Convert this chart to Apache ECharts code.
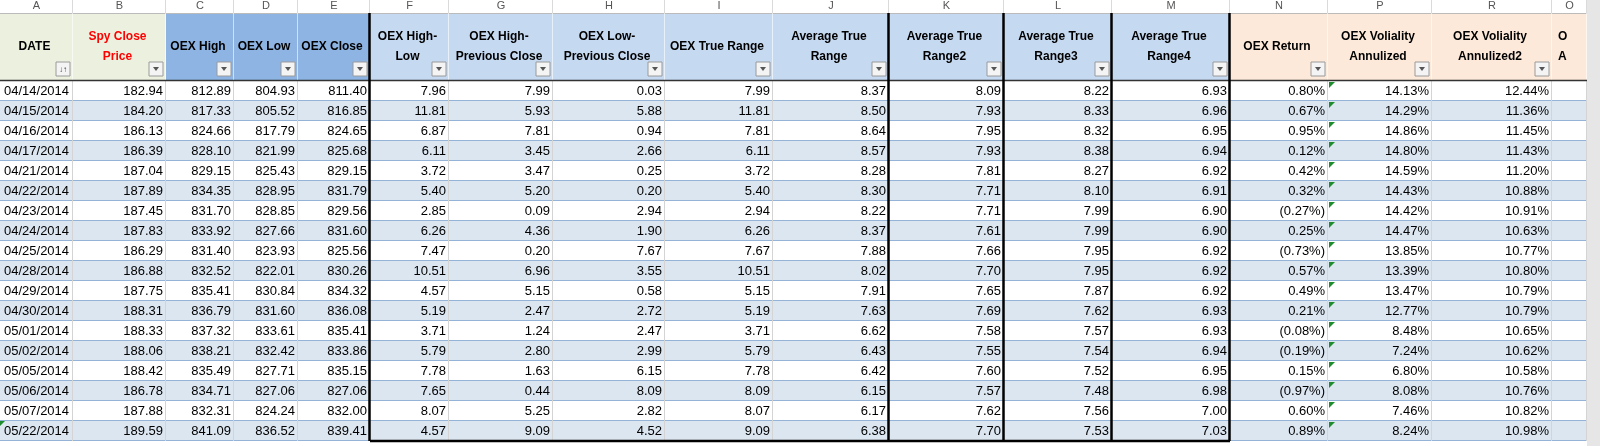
<!DOCTYPE html>
<html><head><meta charset="utf-8">
<script src="https://cdn.jsdelivr.net/npm/echarts@6/dist/echarts.min.js"></script>
<style>html,body{margin:0;padding:0;background:#fff}#c{width:1600px;height:446px}</style>
</head><body><div id="c"></div>
<script>
// ---- data ----
const colLetters = ['A','B','C','D','E','F','G','H','I','J','K','L','M','N','P','R','O'];
const headers = [['DATE'],['Spy Close','Price'],['OEX High'],['OEX Low'],['OEX Close'],['OEX High-','Low'],['OEX High-','Previous Close'],['OEX Low-','Previous Close'],['OEX True Range'],['Average True','Range'],['Average True','Range2'],['Average True','Range3'],['Average True','Range4'],['OEX Return'],['OEX Voliality','Annulized'],['OEX Voliality','Annulized2'],['O','A']];
const dates = ['04/14/2014','04/15/2014','04/16/2014','04/17/2014','04/21/2014','04/22/2014','04/23/2014','04/24/2014','04/25/2014','04/28/2014','04/29/2014','04/30/2014','05/01/2014','05/02/2014','05/05/2014','05/06/2014','05/07/2014','05/22/2014'];
const spyClose = [182.94,184.20,186.13,186.39,187.04,187.89,187.45,187.83,186.29,186.88,187.75,188.31,188.33,188.06,188.42,186.78,187.88,189.59];
const oexHigh = [812.89,817.33,824.66,828.10,829.15,834.35,831.70,833.92,831.40,832.52,835.41,836.79,837.32,838.21,835.49,834.71,832.31,841.09];
const oexLow = [804.93,805.52,817.79,821.99,825.43,828.95,828.85,827.66,823.93,822.01,830.84,831.60,833.61,832.42,827.71,827.06,824.24,836.52];
const oexClose = [811.40,816.85,824.65,825.68,829.15,831.79,829.56,831.60,825.56,830.26,834.32,836.08,835.41,833.86,835.15,827.06,832.00,839.41];
const highLow = [7.96,11.81,6.87,6.11,3.72,5.40,2.85,6.26,7.47,10.51,4.57,5.19,3.71,5.79,7.78,7.65,8.07,4.57];
const highPrevClose = [7.99,5.93,7.81,3.45,3.47,5.20,0.09,4.36,0.20,6.96,5.15,2.47,1.24,2.80,1.63,0.44,5.25,9.09];
const lowPrevClose = [0.03,5.88,0.94,2.66,0.25,0.20,2.94,1.90,7.67,3.55,0.58,2.72,2.47,2.99,6.15,8.09,2.82,4.52];
const trueRange = [7.99,11.81,7.81,6.11,3.72,5.40,2.94,6.26,7.67,10.51,5.15,5.19,3.71,5.79,7.78,8.09,8.07,9.09];
const atr1 = [8.37,8.50,8.64,8.57,8.28,8.30,8.22,8.37,7.88,8.02,7.91,7.63,6.62,6.43,6.42,6.15,6.17,6.38];
const atr2 = [8.09,7.93,7.95,7.93,7.81,7.71,7.71,7.61,7.66,7.70,7.65,7.69,7.58,7.55,7.60,7.57,7.62,7.70];
const atr3 = [8.22,8.33,8.32,8.38,8.27,8.10,7.99,7.99,7.95,7.95,7.87,7.62,7.57,7.54,7.52,7.48,7.56,7.53];
const atr4 = [6.93,6.96,6.95,6.94,6.92,6.91,6.90,6.90,6.92,6.92,6.92,6.93,6.93,6.94,6.95,6.98,7.00,7.03];
const oexReturn = [0.80,0.67,0.95,0.12,0.42,0.32,-0.27,0.25,-0.73,0.57,0.49,0.21,-0.08,-0.19,0.15,-0.97,0.60,0.89];
const vol1 = [14.13,14.29,14.86,14.80,14.59,14.43,14.42,14.47,13.85,13.39,13.47,12.77,8.48,7.24,6.80,8.08,7.46,8.24];
const vol2 = [12.44,11.36,11.45,11.43,11.20,10.88,10.91,10.63,10.77,10.80,10.79,10.79,10.65,10.62,10.58,10.76,10.82,10.98];

// ---- layout ----
const EDGES = [0,73,166,234,298,370,449,553,665,773,889,1004,1112,1230,1328,1432,1552,1587];
const LETTER_H = 13, HEAD_BOT = 81, ROW_H = 20;
const THICK = {370:1,889:1,1004:1,1112:1,1230:1};
const HEAD_FILL = ['#ebf1de','#ebf1de','#8db4e2','#8db4e2','#8db4e2','#c5d9f1','#c5d9f1','#c5d9f1','#c5d9f1','#c5d9f1','#c5d9f1','#c5d9f1','#c5d9f1','#fde9d9','#fde9d9','#fde9d9','#fde9d9'];
const FONT = '"Liberation Sans", Arial, sans-serif';
const HFONT = 'bold 12px ' + FONT;

const f2 = v => v.toFixed(2);
const pct = v => v < 0 ? '(' + Math.abs(v).toFixed(2) + '%)' : v.toFixed(2) + '%';
const columns = [dates, spyClose.map(f2), oexHigh.map(f2), oexLow.map(f2), oexClose.map(f2), highLow.map(f2), highPrevClose.map(f2), lowPrevClose.map(f2), trueRange.map(f2), atr1.map(f2), atr2.map(f2), atr3.map(f2), atr4.map(f2), oexReturn.map(pct), vol1.map(pct), vol2.map(pct), dates.map(()=>'')];

const bodyData = [];
dates.forEach((d, r) => columns.forEach((col, c) => bodyData.push([c, r, col[r]])));
const headData = headers.map((h, c) => [c, h.join('\n')]);

function bodyItem(params, api) {
  const c = api.value(0), r = api.value(1), txt = bodyData[params.dataIndex][2];
  const p0 = api.coord([EDGES[c], HEAD_BOT + r * ROW_H]);
  const p1 = api.coord([EDGES[c + 1], HEAD_BOT + (r + 1) * ROW_H]);
  const w = p1[0] - p0[0], h = p1[1] - p0[1];
  const ch = [];
  ch.push({type:'rect', shape:{x:p0[0], y:p0[1], width:w, height:h}, style:{fill: r % 2 ? '#dce6f1' : '#ffffff'}});
  ch.push({type:'line', shape:{x1:p0[0], y1:p1[1]-0.5, x2:p1[0], y2:p1[1]-0.5}, style:{stroke:'#95b3d7', lineWidth:1}});
  if (!THICK[EDGES[c + 1]]) ch.push({type:'line', shape:{x1:p1[0]-0.5, y1:p0[1], x2:p1[0]-0.5, y2:p1[1]}, style:{stroke:'#d4d4d4', lineWidth:1}});
  if (c === 0) ch.push({type:'text', style:{x:p0[0]+4, y:p0[1]+h/2, text:txt, font:'13px '+FONT, fill:'#000', align:'left', verticalAlign:'middle'}});
  else ch.push({type:'text', style:{x:p1[0]-3, y:p0[1]+h/2, text:txt, font:'13px '+FONT, fill:'#000', align:'right', verticalAlign:'middle'}});
  if (c === 14) ch.push({type:'polygon', shape:{points:[[p0[0]+1,p0[1]+1],[p0[0]+7,p0[1]+1],[p0[0]+1,p0[1]+7]]}, style:{fill:'#1e8c2e'}});
  if (c === 0 && r === dates.length - 1) ch.push({type:'polygon', shape:{points:[[p0[0],p0[1]],[p0[0]+5,p0[1]],[p0[0],p0[1]+5]]}, style:{fill:'#1e8c2e'}});
  return {type:'group', children:ch};
}

function headItem(params, api) {
  const c = api.value(0);
  const lines = headers[c];
  const p0 = api.coord([EDGES[c], 0]);
  const pm = api.coord([EDGES[c + 1], LETTER_H]);
  const p1 = api.coord([EDGES[c + 1], HEAD_BOT]);
  const w = p1[0] - p0[0];
  const ch = [];
  ch.push({type:'rect', shape:{x:p0[0], y:p0[1], width:w, height:pm[1]-p0[1]}, style:{fill:'#ffffff'}});
  ch.push({type:'line', shape:{x1:pm[0]-0.5, y1:p0[1], x2:pm[0]-0.5, y2:pm[1]}, style:{stroke:'#dadada'}});
  ch.push({type:'text', style:{x:p0[0]+w/2, y:p0[1]+6, text:colLetters[c], font:'11px '+FONT, fill:'#555', align:'center', verticalAlign:'middle'}});
  ch.push({type:'rect', shape:{x:p0[0], y:pm[1], width:w, height:p1[1]-pm[1]}, style:{fill:HEAD_FILL[c]}});
  ch.push({type:'line', shape:{x1:p0[0], y1:pm[1]+0.5, x2:p1[0], y2:pm[1]+0.5}, style:{stroke:'#bbbbbb'}});
  if (!THICK[EDGES[c + 1]]) ch.push({type:'line', shape:{x1:p1[0]-0.5, y1:pm[1], x2:p1[0]-0.5, y2:p1[1]}, style:{stroke:'#ffffff', opacity:0.6}});
  ch.push({type:'line', shape:{x1:p0[0], y1:p1[1]-0.5, x2:p1[0], y2:p1[1]-0.5}, style:{stroke:'#333', lineWidth:1.5}});
  const last = c === headers.length - 1;
  const cx = last ? p0[0] + 6 : p0[0] + w/2 - 2;
  const al = last ? 'left' : 'center';
  const fill = c === 1 ? '#ff0000' : '#000';
  if (lines.length === 1) ch.push({type:'text', style:{x:cx, y:pm[1]+34, text:lines[0], font:HFONT, fill, align:al, verticalAlign:'middle'}});
  else {
    ch.push({type:'text', style:{x:cx, y:pm[1]+24, text:lines[0], font:HFONT, fill, align:al, verticalAlign:'middle'}});
    ch.push({type:'text', style:{x:cx, y:pm[1]+44, text:lines[1], font:HFONT, fill, align:al, verticalAlign:'middle'}});
  }
  if (!last) {
    const bx = p1[0] - 17, by = p1[1] - 19;
    ch.push({type:'rect', shape:{x:bx, y:by, width:14, height:14}, style:{fill:'#f4f4f4', stroke:'#9a9a9a', lineWidth:1}});
    if (c === 0) ch.push({type:'text', style:{x:bx+7, y:by+8, text:'↓↑', font:'8px '+FONT, fill:'#444', align:'center', verticalAlign:'middle'}});
    else ch.push({type:'polygon', shape:{points:[[bx+4,by+5],[bx+10,by+5],[bx+7,by+9]]}, style:{fill:'#555'}});
  }
  return {type:'group', children:ch};
}

function thickItem(params, api) {
  const x = api.value(0);
  const top = api.coord([x, LETTER_H]);
  const bot = api.coord([x, HEAD_BOT + dates.length * ROW_H]);
  return {type:'line', shape:{x1:top[0]-0.5, y1:top[1], x2:bot[0]-0.5, y2:bot[1]}, style:{stroke:'#000', lineWidth:2.5}};
}
function bottomItem(params, api) {
  const a = api.coord([370, HEAD_BOT + dates.length * ROW_H]);
  const b = api.coord([1230, HEAD_BOT + dates.length * ROW_H]);
  const s = api.coord([1587, 0]), e = api.coord([1600, 446]);
  return {type:'group', children:[
    {type:'line', shape:{x1:a[0], y1:a[1], x2:b[0], y2:b[1]}, style:{stroke:'#000', lineWidth:2.5}},
    {type:'rect', shape:{x:s[0], y:s[1], width:e[0]-s[0], height:e[1]-s[1]}, style:{fill:'#e6e6e6'}}
  ]};
}

const chart = echarts.init(document.getElementById('c'), null, {renderer:'canvas'});
chart.setOption({
  animation:false,
  grid:{left:0,right:0,top:0,bottom:0},
  xAxis:{type:'value', min:0, max:1600, show:false},
  yAxis:{type:'value', min:0, max:446, inverse:true, show:false},
  series:[
    {type:'custom', data:bodyData, renderItem:bodyItem, clip:false, silent:true},
    {type:'custom', data:headData, renderItem:headItem, clip:false, silent:true},
    {type:'custom', data:Object.keys(THICK).map(Number).map(v=>[v]), renderItem:thickItem, clip:false, silent:true},
    {type:'custom', data:[[0]], renderItem:bottomItem, clip:false, silent:true}
  ]
});
</script></body></html>
